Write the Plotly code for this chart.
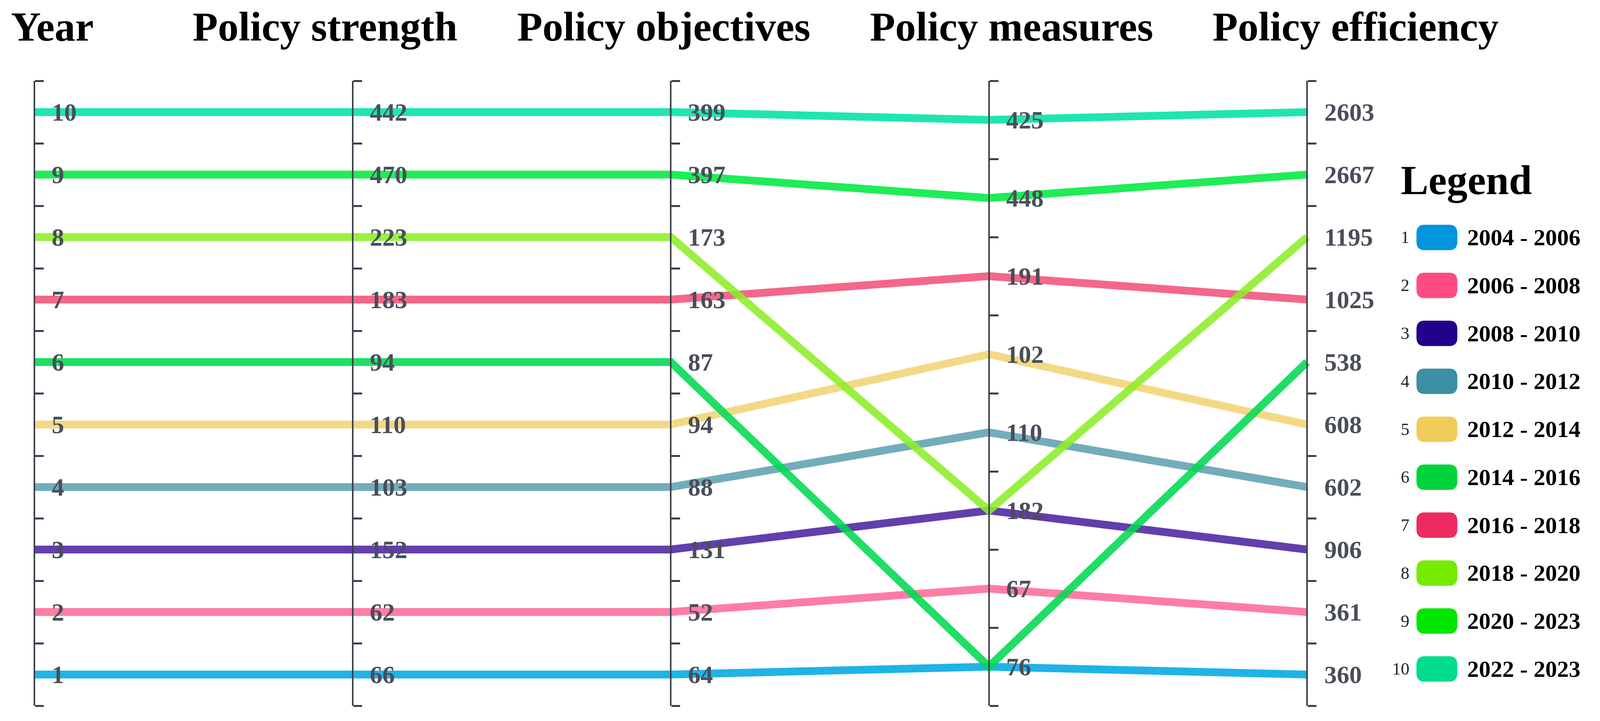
import plotly.graph_objects as go

# ---------------- data ----------------
dimensions = ["Year", "Policy strength", "Policy objectives", "Policy measures", "Policy efficiency"]
year = [1, 2, 3, 4, 5, 6, 7, 8, 9, 10]
strength = [66, 62, 152, 103, 110, 94, 183, 223, 470, 442]
objectives = [64, 52, 131, 88, 94, 87, 163, 173, 397, 399]
measures = [76, 67, 182, 110, 102, 76, 191, 182, 448, 425]
efficiency = [360, 361, 906, 602, 608, 538, 1025, 1195, 2667, 2603]
periods = ["2004 - 2006", "2006 - 2008", "2008 - 2010", "2010 - 2012", "2012 - 2014",
           "2014 - 2016", "2016 - 2018", "2018 - 2020", "2020 - 2023", "2022 - 2023"]
legend_colors = ["#0095DD", "#FF4B82", "#23008C", "#3A8FA3", "#F0CC58",
                 "#00D43A", "#EE2B60", "#75EB00", "#00E600", "#00DC8C"]
line_colors = ["#00A8E4", "#FF6A98", "#4C24A0", "#60A0B2", "#F3D474",
               "#00DA50", "#F3527A", "#8CEE28", "#00EA40", "#00E2A4"]
line_alpha = 0.88

# ---------------- geometry (reference pixel grid 4233 x 1846) ----------------
W, H = 4233, 1846
AX_LEFT_PX, AX_RIGHT_PX = 91, 3458          # first / last axis pixel x
TOP_PX, BOT_PX = 207, 1807                   # axis extent
unit = (AX_RIGHT_PX - AX_LEFT_PX) / (len(dimensions) - 1)
X0 = -AX_LEFT_PX / unit
X1 = (W - AX_LEFT_PX) / unit
SPAN = 10.0
AXIS_COLOR = "#3c404c"
SERIF = "Liberation Serif, Times New Roman, serif"


def px_x(p):
    return p / W


def px_y(p):
    return 1 - p / H


def category_axis(values):
    cats = []
    for v in values:
        if v not in cats:
            cats.append(v)
    n = len(cats)
    step = SPAN / n
    pos = [(cats.index(v) + 0.5) * step for v in values]
    centers = [(i + 0.5) * step for i in range(n)]
    bounds = [i * step for i in range(n + 1)]
    return cats, pos, centers, bounds


columns = [year, strength, objectives, measures, efficiency]
axes_info = [category_axis(c) for c in columns]


def rgba(hexc, a):
    h = hexc.lstrip("#")
    r, g, b = int(h[0:2], 16), int(h[2:4], 16), int(h[4:6], 16)
    return f"rgba({r},{g},{b},{a})"


fig = go.Figure()

xs = list(range(len(dimensions)))
for i in range(len(year)):
    ys = [axes_info[d][1][i] for d in range(len(dimensions))]
    fig.add_trace(go.Scatter(
        x=xs, y=ys, mode="lines",
        line=dict(color=rgba(line_colors[i], line_alpha), width=20),
        showlegend=False, hoverinfo="skip"))

ydomain = [px_y(BOT_PX), px_y(TOP_PX)]
layout = dict(
    autosize=True,
    margin=dict(l=0, r=0, t=0, b=0, pad=0),
    paper_bgcolor="white", plot_bgcolor="white",
    showlegend=False,
    xaxis=dict(range=[X0, X1], domain=[0, 1], visible=False),
    yaxis=dict(range=[0, SPAN], domain=ydomain, visible=False),
)

for d in range(len(dimensions)):
    cats, pos, centers, bounds = axes_info[d]
    name = f"yaxis{d + 2}"
    fig.add_trace(go.Scatter(x=[None], y=[None], yaxis=f"y{d + 2}",
                             showlegend=False, hoverinfo="skip"))
    layout[name] = dict(
        overlaying="y", anchor="free",
        position=(d - X0) / (X1 - X0), side="left",
        range=[0, SPAN], showline=True, linecolor=AXIS_COLOR, linewidth=4,
        showgrid=False, zeroline=False,
        tickmode="array", tickvals=centers, ticktext=[f"<b>{c}</b>" for c in cats],
        ticks="", ticklabelposition="inside", ticklabelstandoff=52,
        ticklabeloverflow="allow",
        tickfont=dict(family=SERIF, size=64, color="#4a4e5a"),
        minor=dict(tickmode="array", tickvals=bounds, ticks="inside",
                   ticklen=22, tickwidth=5, tickcolor=AXIS_COLOR, showgrid=False),
    )

fig.update_layout(**layout)

# dimension titles
title_centers_px = [138, 860, 1756, 2676, 3587]
for name, cx in zip(dimensions, title_centers_px):
    fig.add_annotation(x=px_x(cx), y=px_y(69), xref="paper", yref="paper",
                       text=f"<b>{name}</b>", showarrow=False, xanchor="center", yanchor="middle",
                       font=dict(family=SERIF, size=106, color="black"))

# legend (drawn)
fig.add_annotation(x=px_x(3704), y=px_y(462), xref="paper", yref="paper",
                   text="<b>Legend</b>", showarrow=False, xanchor="left", yanchor="middle",
                   font=dict(family=SERIF, size=106, color="black"))

ROW0, ROWSTEP = 608, 122.75
SW_L, SW_R, SW_H, RAD = 3749, 3854, 62, 20
for i, (lab, col) in enumerate(zip(periods, legend_colors)):
    c = ROW0 + i * ROWSTEP
    t, b = c - SW_H / 2, c + SW_H / 2
    rx, ry = RAD / W, RAD / H
    x0, x1, y0, y1 = px_x(SW_L), px_x(SW_R), px_y(b), px_y(t)
    path = (f"M {x0 + rx},{y0} L {x1 - rx},{y0} Q {x1},{y0} {x1},{y0 + ry} "
            f"L {x1},{y1 - ry} Q {x1},{y1} {x1 - rx},{y1} L {x0 + rx},{y1} "
            f"Q {x0},{y1} {x0},{y1 - ry} L {x0},{y0 + ry} Q {x0},{y0} {x0 + rx},{y0} Z")
    fig.add_shape(type="path", path=path, xref="paper", yref="paper",
                  fillcolor=col, line=dict(color=col, width=3), layer="above")
    fig.add_annotation(x=px_x(3731), y=px_y(c), xref="paper", yref="paper",
                       text=str(year[i]), showarrow=False, xanchor="right", yanchor="middle",
                       font=dict(family=SERIF, size=44, color="#222222"))
    fig.add_annotation(x=px_x(3880), y=px_y(c), xref="paper", yref="paper",
                       text=f"<b>{lab}</b>", showarrow=False, xanchor="left", yanchor="middle",
                       font=dict(family=SERIF, size=60, color="black"))

fig.write_html(
    "out.html",
    default_width="100vw",
    default_height="100vh",
    config={"displayModeBar": False},
    post_script="document.body.style.margin='0';document.body.style.overflow='hidden';"
                "document.documentElement.style.overflow='hidden';",
)
